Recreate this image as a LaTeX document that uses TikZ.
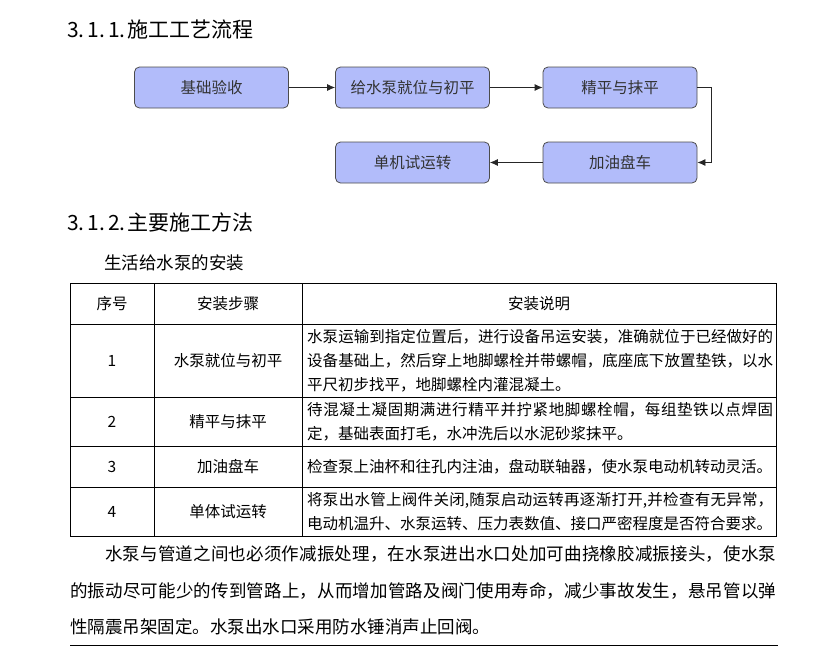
\documentclass[tikz,border=0pt]{standalone}
\usepackage{fontspec}
\setmainfont{Noto Sans CJK SC}
\usetikzlibrary{arrows.meta}
\XeTeXlinebreaklocale "zh"
\XeTeXlinebreakskip=0pt plus 2pt
\definecolor{boxblue}{RGB}{178,188,250}

\tikzset{
	step box/.style={draw=black!70, fill=boxblue, rounded corners=5pt, minimum width=154pt, minimum height=41pt, line width=0.8pt, font=\fontsize{15.5}{18}\selectfont, text=black!80},
	flow/.style={-{Latex[length=8pt,width=7pt]}, line width=0.8pt, black!85},
	grid line/.style={line width=0.8pt},
	cell/.style={inner sep=0pt, font=\fontsize{15.5}{24}\selectfont},
	note/.style={cell, anchor=west, text width=466pt, align=justify},
	heading/.style={anchor=west, inner sep=0pt, font=\fontsize{21}{24}\selectfont},
}

\begin{document}
\begin{tikzpicture}[x=1pt, y=-1pt]
			\useasboundingbox (0,0) rectangle (838,646);
			\node [heading] (title1) at (67,30) {3.\kern3pt 1.\kern3pt 1.\kern2pt 施工工艺流程};
			\node [step box] (jichu) at (211.5,87.5) {基础验收};
			\node [step box] (jiuwei) at (412.5,87.5) {给水泵就位与初平};
			\node [step box] (jingping) at (620,87.5) {精平与抹平};
			\node [step box] (jiayou) at (620,162.5) {加油盘车};
			\node [step box] (shiyun) at (412.5,162.5) {单机试运转};
			\draw [flow] (jichu) -- (jiuwei);
			\draw [flow] (jiuwei) -- (jingping);
			\draw [flow] (jingping.east) -- ++(14,0) |- (jiayou.east);
			\draw [flow] (jiayou) -- (shiyun);
			\node [heading] (title2) at (67,222) {3.\kern3pt 1.\kern3pt 2.\kern2pt 主要施工方法};
			\node [anchor=west, inner sep=0pt, font=\fontsize{17.5}{20}\selectfont] (sub) at (104,263) {生活给水泵的安装};
			\draw [grid line] (70,283) rectangle (776,536);
			\foreach \y in {324,397,446,487}
				\draw [grid line] (70,\y) -- (776,\y);
			\draw [grid line] (154,283) -- (154,536);
			\draw [grid line] (302,283) -- (302,536);
			\node [cell] (hno) at (112,304) {序号};
			\node [cell] (hstep) at (228,304) {安装步骤};
			\node [cell] (hnote) at (539,304) {安装说明};
			\node [cell] (no1) at (112,360.5) {1};
			\node [cell] (no2) at (112,421.5) {2};
			\node [cell] (no3) at (112,466.5) {3};
			\node [cell] (no4) at (112,511.5) {4};
			\node [cell] (step1) at (228,360.5) {水泵就位与初平};
			\node [cell] (step2) at (228,421.5) {精平与抹平};
			\node [cell] (step3) at (228,466.5) {加油盘车};
			\node [cell] (step4) at (228,511.5) {单体试运转};
			\node [note] (note1) at (307,360.5) {水泵运输到指定位置后，进行设备吊运安装，准确就位于已经做好的\linebreak 设备基础上，然后穿上地脚螺栓并带螺帽，底座底下放置垫铁，以水\linebreak 平尺初步找平，地脚螺栓内灌混凝土。};
			\node [note] (note2) at (307,421.5) {待混凝土凝固期满进行精平并拧紧地脚螺栓帽，每组垫铁以点焊固\linebreak 定，基础表面打毛，水冲洗后以水泥砂浆抹平。};
			\node [note] (note3) at (307,466.5) {检查泵上油杯和往孔内注油，盘动联轴器，使水泵电动机转动灵活。};
			\node [note] (note4) at (307,511.5) {将泵出水管上阀件关闭,随泵启动运转再逐渐打开,并检查有无异常，\linebreak 电动机温升、水泵运转、压力表数值、接口严密程度是否符合要求。};
			\node [anchor=west, inner sep=0pt, text width=706pt, align=justify, font=\fontsize{17.5}{36.5}\selectfont] (para) at (70,590.5) {\hspace*{35pt}水泵与管道之间也必须作减振处理，在水泵进出水口处加可曲挠橡胶减振接头，使水泵\linebreak 的振动尽可能少的传到管路上，从而增加管路及阀门使用寿命，减少事故发生，悬吊管以弹\linebreak 性隔震吊架固定。水泵出水口采用防水锤消声止回阀。};
			\draw [grid line] (70,645) -- (778,645);
	\end{tikzpicture}
\end{document}
